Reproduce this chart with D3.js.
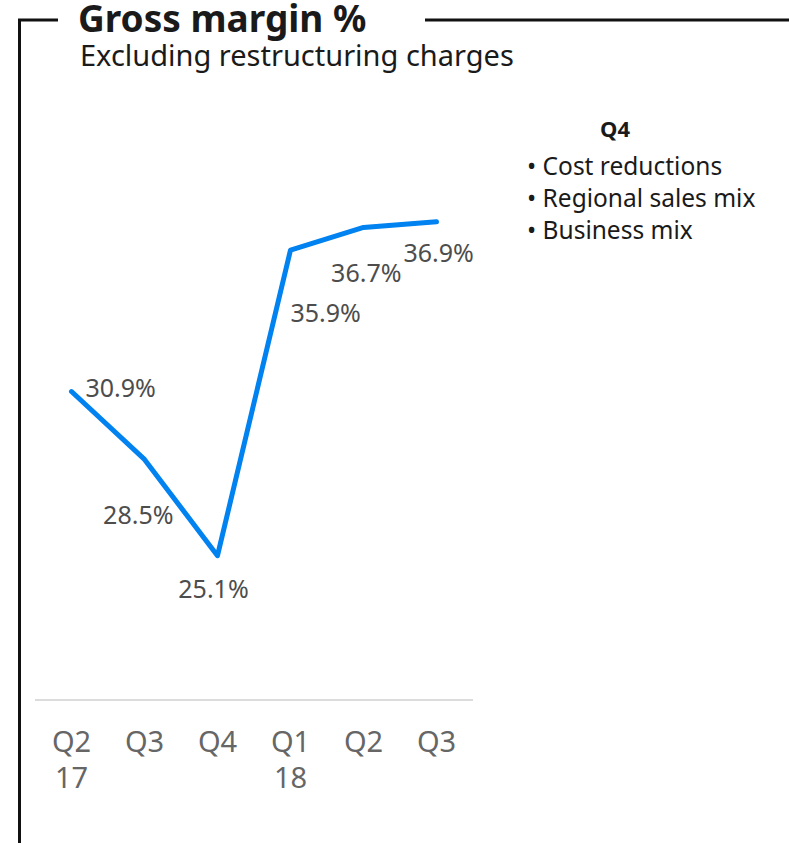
<!DOCTYPE html>
<html>
<head>
<meta charset="utf-8">
<script src="https://cdn.jsdelivr.net/npm/d3@7"></script>
<style>
  body { margin: 0; background: #fff; }
  svg { display: block; font-family: "Noto Sans", sans-serif; }
</style>
</head>
<body>
<svg id="chart" width="789" height="843"></svg>
<script>
const quarters = ['Q2', 'Q3', 'Q4', 'Q1', 'Q2', 'Q3']
const years = ['17', '', '', '18', '', '']
const margin = [30.9, 28.5, 25.1, 35.9, 36.7, 36.9]
const notes = ['Cost reductions', 'Regional sales mix', 'Business mix']

// where each value label sits relative to its point
const labelPos = [
  { dx: 14, dy: 5, anchor: 'start' },
  { dx: 29, dy: 65, anchor: 'end' },
  { dx: -4, dy: 42, anchor: 'middle' },
  { dx: 0, dy: 72, anchor: 'start' },
  { dx: 38, dy: 55, anchor: 'end' },
  { dx: -33, dy: 40, anchor: 'start' }
]

const svg = d3.select('#chart')

// frame
svg.append('path')
  .attr('d', 'M58,20 H19.5 V843 M425,20 H789')
  .attr('fill', 'none')
  .attr('stroke', '#111')
  .attr('stroke-width', 3)

svg.append('text').attr('x', 78).attr('y', 32)
  .attr('font-size', 37).attr('font-weight', 'bold').attr('fill', '#1a1a1a')
  .text('Gross margin %')
svg.append('text').attr('x', 80).attr('y', 66)
  .attr('font-size', 29).attr('fill', '#1a1a1a')
  .text('Excluding restructuring charges')

const idx = d3.range(margin.length)
const x = d3.scaleBand().domain(idx).range([35, 473])
const y = d3.scaleLinear().domain([20, 40]).range([700, 134])
const cx = i => x(i) + x.bandwidth() / 2

svg.append('line')
  .attr('x1', 35).attr('x2', 473)
  .attr('y1', y(20)).attr('y2', y(20))
  .attr('stroke', '#dcdcdc').attr('stroke-width', 2)

const line = d3.line().x((d, i) => cx(i)).y(d => y(d))
svg.append('path')
  .datum(margin)
  .attr('d', line)
  .attr('fill', 'none')
  .attr('stroke', '#0082f0')
  .attr('stroke-width', 5)
  .attr('stroke-linecap', 'round')
  .attr('stroke-linejoin', 'round')

svg.selectAll('.val').data(margin).enter().append('text')
  .attr('class', 'val')
  .attr('x', (d, i) => cx(i) + labelPos[i].dx)
  .attr('y', (d, i) => y(d) + labelPos[i].dy)
  .attr('text-anchor', (d, i) => labelPos[i].anchor)
  .attr('font-size', 25)
  .attr('fill', '#4d4d4d')
  .text(d => d.toFixed(1) + '%')

const ticks = svg.selectAll('.tick').data(idx).enter().append('text')
  .attr('class', 'tick')
  .attr('text-anchor', 'middle')
  .attr('font-size', 29)
  .attr('fill', '#666')
ticks.append('tspan').attr('x', cx).attr('y', 752).text(i => quarters[i])
ticks.append('tspan').attr('x', cx).attr('y', 788).text(i => years[i])

svg.append('text').attr('x', 615).attr('y', 137)
  .attr('text-anchor', 'middle')
  .attr('font-size', 22).attr('font-weight', 'bold').attr('fill', '#1a1a1a')
  .text('Q4')

svg.selectAll('.note').data(notes).enter().append('text')
  .attr('class', 'note')
  .attr('x', 527)
  .attr('y', (d, i) => 175 + i * 32)
  .attr('font-size', 24.5)
  .attr('fill', '#1a1a1a')
  .text(d => '\u2022 ' + d)
</script>
</body>
</html>
